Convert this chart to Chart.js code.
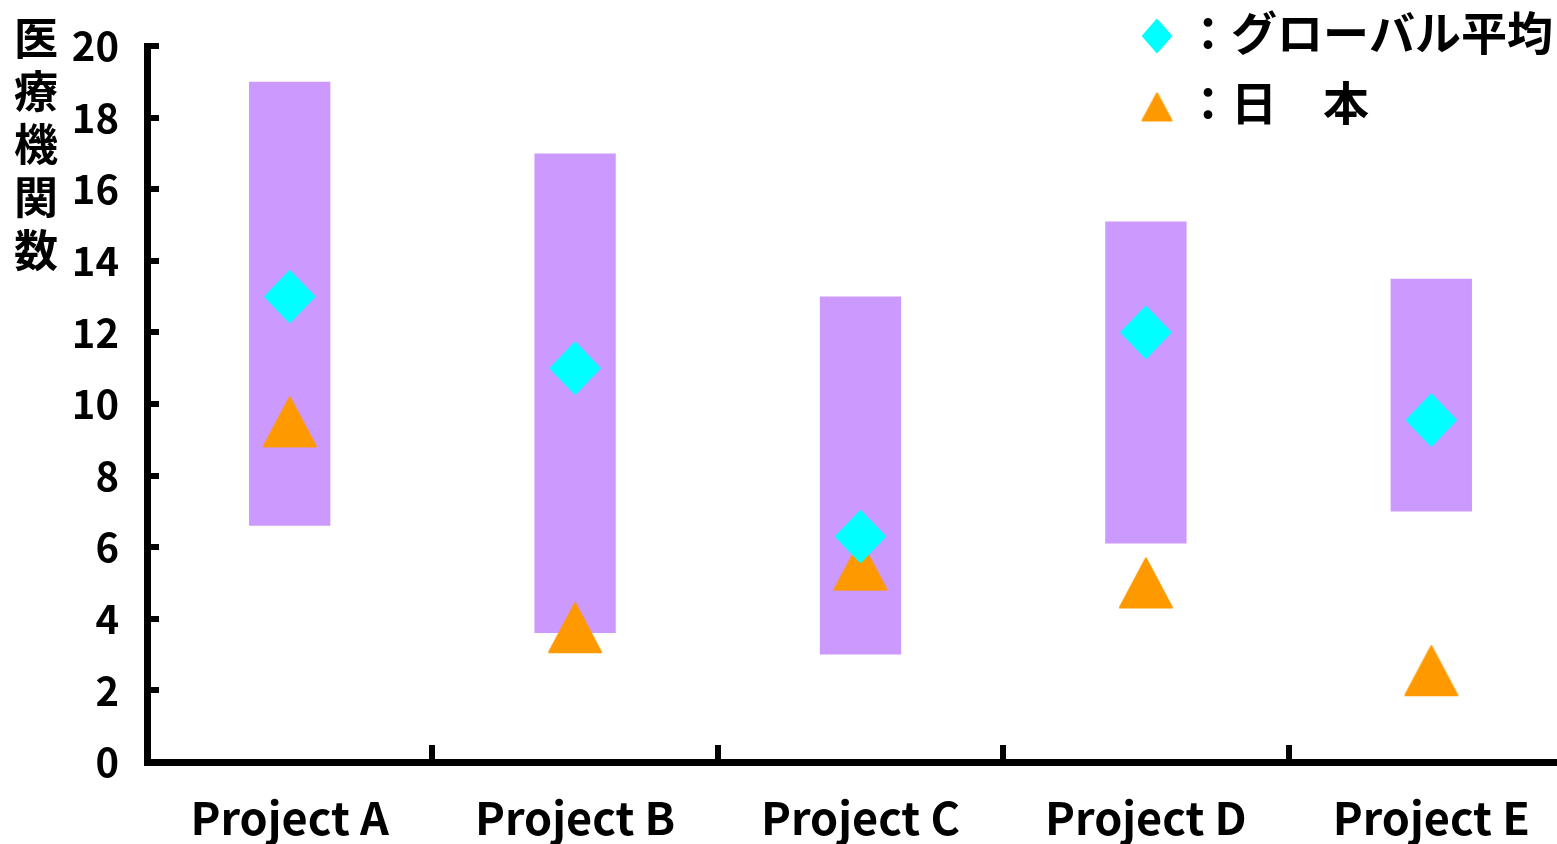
<!DOCTYPE html>
<html>
<head>
<meta charset="utf-8">
<script src="https://cdn.jsdelivr.net/npm/chart.js@4.4.0/dist/chart.umd.min.js"></script>
<style>
  html, body { margin: 0; padding: 0; background: #fff; overflow: hidden; }
  #wrap { width: 1600px; height: 844px; }
</style>
</head>
<body>
<div id="wrap"><canvas id="chart" width="1600" height="844"></canvas></div>
<script>
// values
const projects = ['Project A', 'Project B', 'Project C', 'Project D', 'Project E'];
const rangeLow = [6.6, 3.6, 3.0, 6.1, 7.0];
const rangeHigh = [19.0, 17.0, 13.0, 15.1, 13.5];
const globalAvg = [13.0, 11.0, 6.3, 12.0, 9.55];
const japan = [9.5, 3.75, 5.5, 5.0, 2.55];
const yTicks = [0, 2, 4, 6, 8, 10, 12, 14, 16, 18, 20];
const yTitle = '医療機関数';
const seriesNames = ['グローバル平均', '日　本'];

const FONT = '"Noto Sans CJK JP", "Noto Sans", sans-serif';
const PURPLE = '#CC99FF';
const CYAN = '#00FFFF';
const ORANGE = '#FF9900';

// marker images, centred on the point (like the Excel markers)
function makeMarker(shape, w, h, color) {
    const pad = 2;
    const c = document.createElement('canvas');
    c.width = w + pad * 2;
    c.height = h + pad * 2;
    const g = c.getContext('2d');
    g.fillStyle = color;
    g.strokeStyle = color;
    g.lineWidth = 2;
    g.lineJoin = 'round';
    const cx = c.width / 2, cy = c.height / 2;
    g.beginPath();
    if (shape === 'diamond') {
        g.moveTo(cx, cy - h / 2 + 1);
        g.lineTo(cx + w / 2 - 1, cy);
        g.lineTo(cx, cy + h / 2 - 1);
        g.lineTo(cx - w / 2 + 1, cy);
    } else {
        g.moveTo(cx, cy - h / 2 + 1);
        g.lineTo(cx + w / 2 - 1, cy + h / 2 - 1);
        g.lineTo(cx - w / 2 + 1, cy + h / 2 - 1);
    }
    g.closePath();
    g.fill();
    g.stroke();
    return c;
}

const diamondBig = makeMarker('diamond', 51, 53, CYAN);
const triangleBig = makeMarker('triangle', 54, 51, ORANGE);
const diamondSmall = makeMarker('diamond', 30, 34, CYAN);
const triangleSmall = makeMarker('triangle', 31, 29, ORANGE);

// vertical axis title + legend in the top right corner
const overlay = {
    id: 'overlay',
    afterDraw(chart) {
        const ctx = chart.ctx;
        ctx.save();
        ctx.fillStyle = '#000';
        ctx.textBaseline = 'middle';

        ctx.font = 'bold 44px ' + FONT;
        ctx.textAlign = 'center';
        [...yTitle].forEach((ch, i) => ctx.fillText(ch, 36, 38 + i * 53));

        const items = [
            { img: diamondSmall, name: seriesNames[0], my: 36, ty: 33 },
            { img: triangleSmall, name: seriesNames[1], my: 107, ty: 103 }
        ];
        ctx.font = 'bold 46px ' + FONT;
        ctx.textAlign = 'left';
        items.forEach(it => {
            ctx.drawImage(it.img, 1157 - it.img.width / 2, it.my - it.img.height / 2);
            ctx.fillText('：' + it.name, 1185, it.ty);
        });
        ctx.restore();
    }
};

const ctx = document.getElementById('chart').getContext('2d');
const chart = new Chart(ctx, {
    type: 'bar',
    data: {
        labels: projects,
        datasets: [
            {
                type: 'line',
                label: seriesNames[0],
                data: globalAvg,
                showLine: false,
                pointStyle: diamondBig,
                pointRadius: 25,
                backgroundColor: CYAN,
                order: 0
            },
            {
                type: 'line',
                label: seriesNames[1],
                data: japan,
                showLine: false,
                pointStyle: triangleBig,
                pointRadius: 25,
                backgroundColor: ORANGE,
                order: 1
            },
            {
                type: 'bar',
                label: 'range',
                data: projects.map((p, i) => [rangeLow[i], rangeHigh[i]]),
                backgroundColor: PURPLE,
                borderWidth: 0,
                barPercentage: 0.285,
                categoryPercentage: 1,
                order: 2
            }
        ]
    },
    options: {
        responsive: false,
        animation: false,
        events: [],
        layout: { padding: { top: 46, right: 3, left: 0, bottom: 0 } },
        plugins: {
            legend: { display: false },
            tooltip: { enabled: false }
        },
        scales: {
            x: {
                offset: true,
                afterFit: s => { s.height = 82; },
                border: { display: true, color: '#000', width: 7 },
                grid: { offset: true, drawOnChartArea: false, drawTicks: true, tickLength: -17, color: '#000', lineWidth: 6 },
                ticks: { color: '#000', padding: 46, font: { family: FONT, size: 45, weight: 'bold' } }
            },
            y: {
                min: 0,
                max: 20,
                afterBuildTicks: s => { s.ticks = yTicks.map(v => ({ value: v })); },
                afterFit: s => { s.width = 147; s.paddingTop = 0; s.paddingBottom = 0; },
                border: { display: true, color: '#000', width: 7 },
                grid: { drawOnChartArea: false, drawTicks: true, tickLength: -12, color: '#000', lineWidth: 6 },
                ticks: { color: '#000', padding: 40, font: { family: FONT, size: 40, weight: 'bold' } }
            }
        }
    },
    plugins: [overlay]
});
</script>
</body>
</html>
